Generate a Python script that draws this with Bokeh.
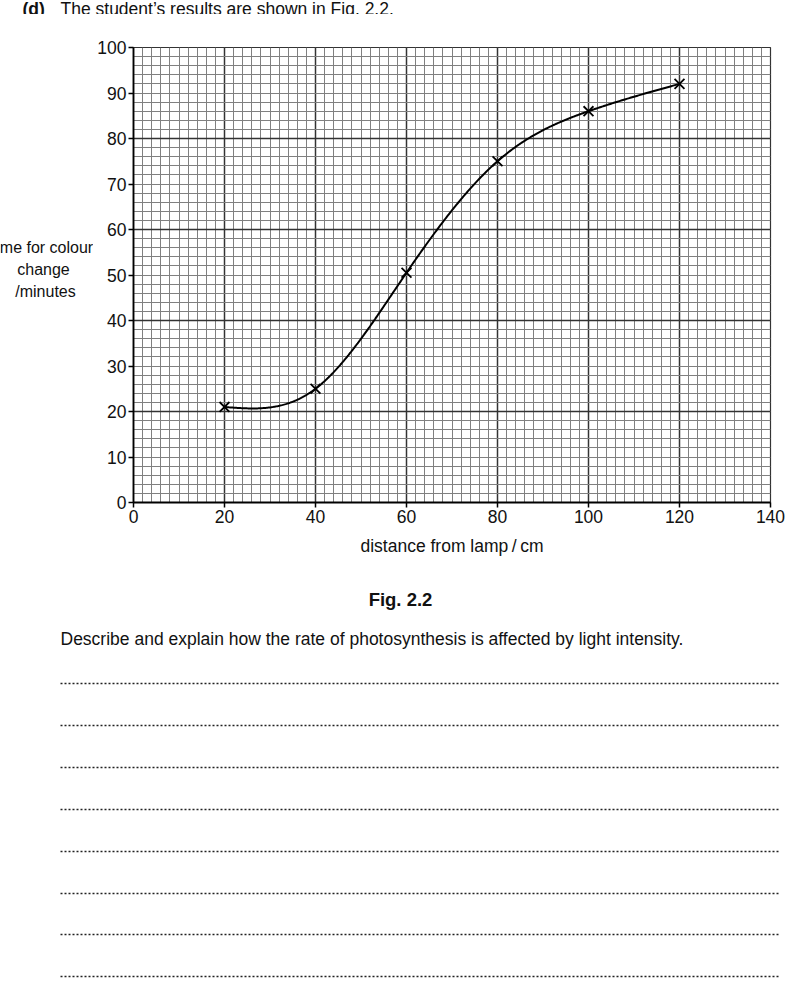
import numpy as np
from bokeh.plotting import figure
from bokeh.layouts import column, row
from bokeh.models import SingleIntervalTicker, FixedTicker, Range1d
from bokeh.core.properties import value
from bokeh.embed import file_html
from bokeh.resources import INLINE

# ---------------- data ----------------
distance_cm = [20, 40, 60, 80, 100, 120]
time_min = [21, 25, 50.5, 75, 86, 92]
x_tick_values = [0, 20, 40, 60, 80, 100, 120, 140]
y_tick_values = [0, 10, 20, 30, 40, 50, 60, 70, 80, 90, 100]
x_axis_title = "distance from lamp\u2009/\u2009cm"
y_axis_title = ["time for colour", "change", "/minutes"]
header_label = "(d)"
header_text = "The student\u2019s results are shown in Fig. 2.2."
fig_caption = "Fig. 2.2"
question = "Describe and explain how the rate of photosynthesis is affected by light intensity."

# ---------------- layout ----------------
W, H = 804, 1004
FONT = "Liberation Sans"
FS = "17.5px"
HEAD_H = 14                 # header strip
LEFT_W = 93                 # y-title strip
CH_TOP, CH_BOT, CH_RIGHT, CH_LEFT = 33, 70, 34, 40
FW, FH = 637, 455
CH_H = CH_TOP + FH + CH_BOT
BOT_H = H - HEAD_H - CH_H
FRAME_TOP = HEAD_H + CH_TOP


def text_fig(w, h, yr=None, top=0, bottom=0):
    f = figure(width=w, height=h, x_range=Range1d(0, w),
               y_range=yr if yr is not None else Range1d(h, 0),
               min_border_left=0, min_border_right=0,
               min_border_top=top, min_border_bottom=bottom,
               output_backend="svg", toolbar_location=None,
               outline_line_color=None, background_fill_color="white",
               border_fill_color="white")
    f.axis.visible = False
    f.grid.visible = False
    return f


def put(f, x, y, text, size=FS, bold=False, align="left", baseline="middle", font=FONT):
    f.text(x=[x], y=[y], text=[text], text_font=value(font), text_font_size=size,
           text_font_style="bold" if bold else "normal", text_align=align,
           text_baseline=baseline, text_color="#111111")


# header (only the lower part of the line is visible, as in the scan)
head = text_fig(W, HEAD_H)
put(head, 22, 8, header_label, bold=True, baseline="alphabetic")
put(head, 60, 8, header_text, baseline="alphabetic")

# y-axis title strip (page-pixel coordinates, frame aligned with the chart frame)
ylab = text_fig(LEFT_W, CH_H, yr=Range1d(FRAME_TOP + FH, FRAME_TOP), top=CH_TOP, bottom=CH_BOT)
for k, line in enumerate(y_axis_title):
    put(ylab, [42, 43, 45][k], [247, 269, 291][k], line, size="16px", align="center")

# ---------------- chart ----------------
p = figure(frame_width=FW, frame_height=FH, x_range=Range1d(0, 140), y_range=Range1d(0, 100),
           min_border_left=CH_LEFT, min_border_right=CH_RIGHT, min_border_top=CH_TOP,
           min_border_bottom=CH_BOT, output_backend="svg", toolbar_location=None,
           background_fill_color="white", border_fill_color="white",
           outline_line_color="#333333", outline_line_width=1.2)

for ax, ticks in ((p.xaxis, x_tick_values), (p.yaxis, y_tick_values)):
    ax.ticker = FixedTicker(ticks=ticks)
    ax.minor_tick_line_color = None
    ax.major_tick_in = 0
    ax.major_tick_out = 5
    ax.major_tick_line_width = 1.5
    ax.major_tick_line_color = "black"
    ax.axis_line_width = 1.8
    ax.axis_line_color = "black"
    ax.major_label_text_font = FONT
    ax.major_label_text_font_size = FS
    ax.major_label_text_color = "#111111"
    ax.major_label_standoff = 2

p.xaxis.axis_label = x_axis_title
p.xaxis.axis_label_text_font = FONT
p.xaxis.axis_label_text_font_style = "normal"
p.xaxis.axis_label_text_font_size = FS
p.xaxis.axis_label_text_color = "#111111"
p.xaxis.axis_label_standoff = 10

for g in (p.xgrid, p.ygrid):
    g.ticker = SingleIntervalTicker(interval=20, num_minor_ticks=10)
    g.grid_line_color = "#333333"
    g.grid_line_width = 1.5
    g.minor_grid_line_color = "#808080"
    g.minor_grid_line_width = 1

# natural cubic spline through the results (curve of best fit)
xs = np.array(distance_cm, float)
ys = np.array(time_min, float)
n = len(xs)
h = np.diff(xs)
d = np.diff(ys) / h
A = np.zeros((n, n))
rhs = np.zeros(n)
A[0, 0] = A[-1, -1] = 1
for i in range(1, n - 1):
    A[i, i - 1] = h[i - 1]
    A[i, i] = 2 * (h[i - 1] + h[i])
    A[i, i + 1] = h[i]
    rhs[i] = 6 * (d[i] - d[i - 1])
Mv = np.linalg.solve(A, rhs)
xx = np.linspace(xs[0], xs[-1], 500)
idx = np.clip(np.searchsorted(xs, xx, side="right") - 1, 0, n - 2)
t0 = xx - xs[idx]
t1 = xs[idx + 1] - xx
hi = h[idx]
yy = (Mv[idx] * t1 ** 3 + Mv[idx + 1] * t0 ** 3) / (6 * hi) \
    + (ys[idx] / hi - Mv[idx] * hi / 6) * t1 + (ys[idx + 1] / hi - Mv[idx + 1] * hi / 6) * t0

p.line(xx, yy, line_color="black", line_width=2)
p.scatter(distance_cm, time_min, marker="x", size=14, line_width=1.8, line_color="black")

# ---------------- bottom: caption, question, answer lines ----------------
bot = text_fig(W, BOT_H)
put(bot, 400, 27, fig_caption, bold=True, align="center", size="18.5px")
put(bot, 60, 66, question)
answer_lines_y = [111, 153, 195, 237, 279, 321, 362, 404]
bot.segment(x0=[60] * len(answer_lines_y), y0=answer_lines_y,
            x1=[778] * len(answer_lines_y), y1=answer_lines_y,
            line_dash="2 2", line_width=1.5, line_color="#222222")

layout = column(head, row(ylab, p, spacing=0), bot, spacing=0)
open("out.html", "w").write(file_html(layout, INLINE))
